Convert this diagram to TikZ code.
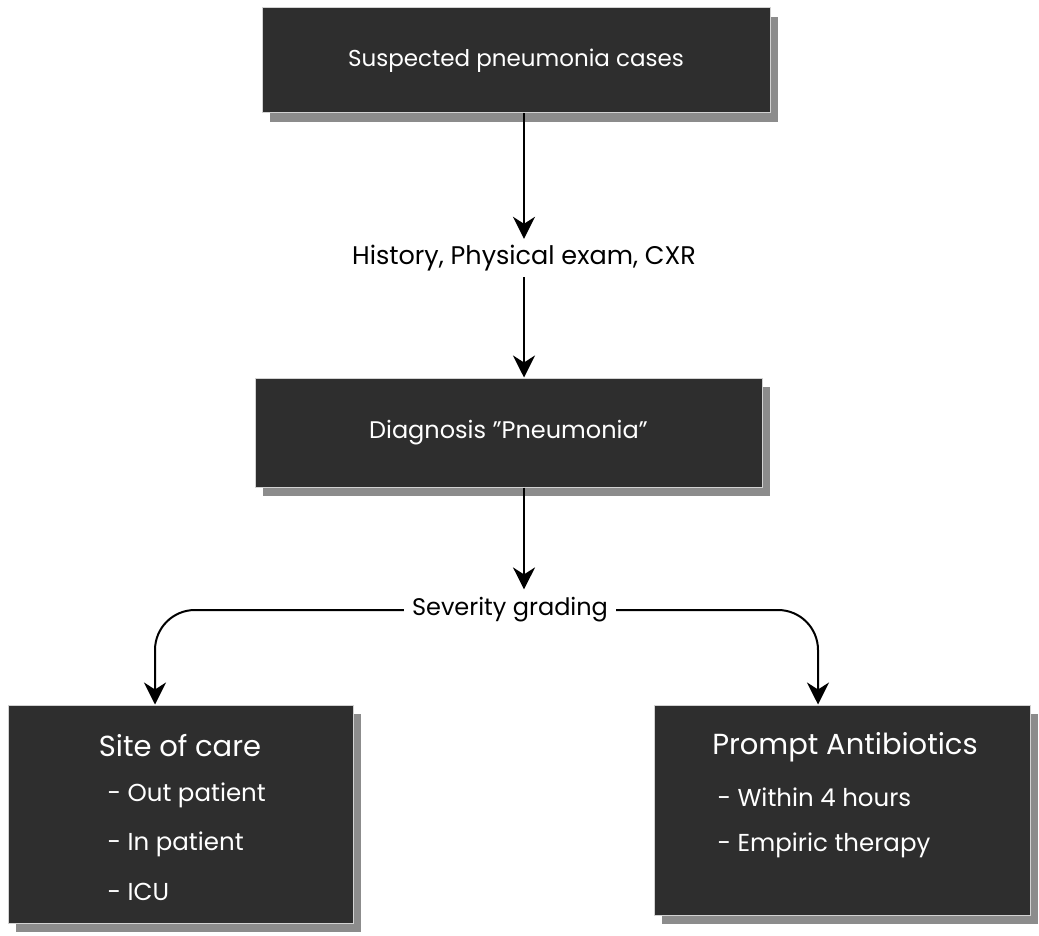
\documentclass[tikz,border=0pt]{standalone}
\usepackage{fontspec}
\setmainfont{Poppins}
\usetikzlibrary{arrows.meta,shadows,calc}
\begin{document}
\begin{tikzpicture}[x=1pt,y=1pt,
  box/.style={draw=gray!35, line width=1pt, fill=black!82, text=white, inner sep=0pt,
    drop shadow={shadow xshift=8pt, shadow yshift=-9pt, fill=black!45, opacity=1}},
  arr/.style={draw=black, line width=2pt, -{Stealth[length=22pt,width=22pt,inset=7pt]}},
  lbl/.style={inner sep=6pt},
  head/.style={text=white, font=\fontsize{29}{32}\selectfont},
  item/.style={text=white, anchor=west, font=\fontsize{24.5}{28}\selectfont}
]
\useasboundingbox (0,0) rectangle (1039,-936);
\node[box, minimum width=508pt, minimum height=105pt, font=\fontsize{23}{26}\selectfont] (b1) at (516,-60.5) {Suspected pneumonia cases};
\node[lbl, font=\fontsize{25.5}{28}\selectfont] (hist) at (524,-258) {History, Physical exam, CXR};
\node[box, minimum width=507pt, minimum height=109pt, font=\fontsize{24}{26}\selectfont] (b2) at (508.5,-432.5) {Diagnosis \char34 Pneumonia\char34};
\node[lbl, inner sep=8pt, font=\fontsize{24}{26}\selectfont] (sev) at (510,-610) {Severity grading};
\node[box, minimum width=345pt, minimum height=218pt] (b3) at (180.5,-814) {};
\node[box, minimum width=376pt, minimum height=210pt] (b4) at (842,-810) {};
\node[head] (t3) at (180,-746) {Site of care};
\node[item] (t3a) at (104,-795) {- Out patient};
\node[item] (t3b) at (104,-844) {- In patient};
\node[item] (t3c) at (104,-892) {- ICU};
\node[head] (t4) at (845,-747) {Prompt Antibiotics};
\node[item] (t4a) at (714,-797) {- Within 4 hours};
\node[item] (t4b) at (714,-845) {- Empiric therapy};
\coordinate (lx) at (155,0);
\coordinate (rx) at (818,0);
\draw[arr] (b1.south -| hist.north) -- (hist.north);
\draw[arr] (hist.south) -- (b2.north -| hist.south);
\draw[arr] (b2.south -| hist.south) -- (sev.north -| hist.south);
\draw[arr, rounded corners=40pt] (sev.west) -| (b3.north -| lx);
\draw[arr, rounded corners=40pt] (sev.east) -| (b4.north -| rx);
\end{tikzpicture}
\end{document}
